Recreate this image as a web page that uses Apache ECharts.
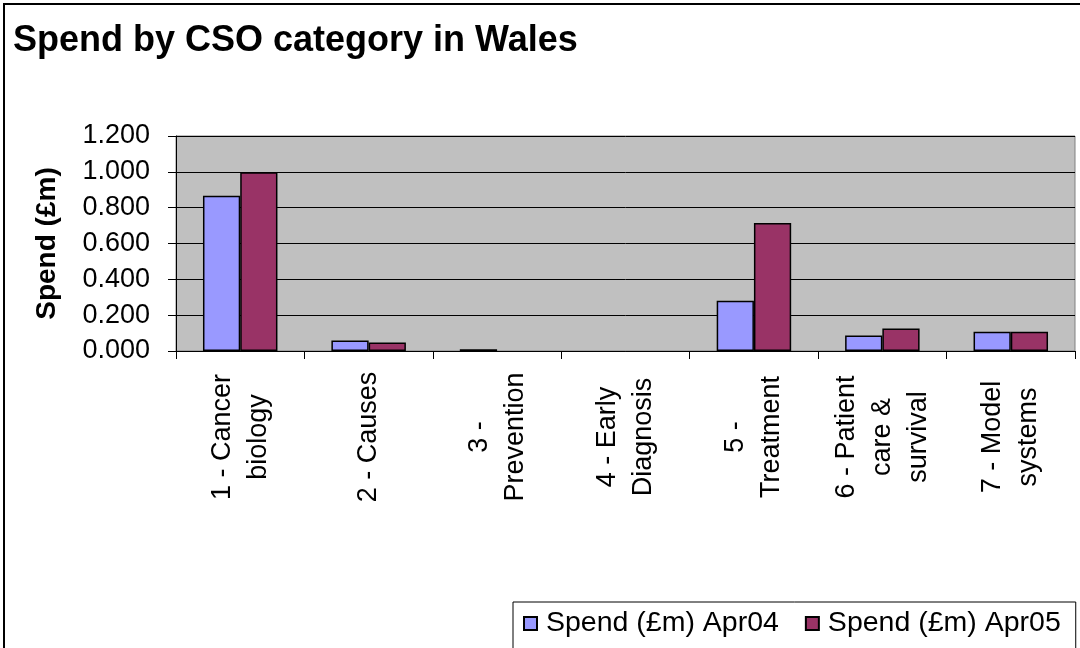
<!DOCTYPE html>
<html>
<head>
<meta charset="utf-8">
<script src="https://cdn.jsdelivr.net/npm/echarts@6/dist/echarts.min.js"></script>
<style>
html,body{margin:0;padding:0;background:#fff;}
#chart{width:1080px;height:648px;}
</style>
</head>
<body>
<div id="chart"></div>
<script>
const categories = ['1 - Cancer\nbiology', '2 - Causes', '3 -\nPrevention', '4 - Early\nDiagnosis', '5 -\nTreatment', '6 - Patient\ncare &\nsurvival', '7 - Model\nsystems'];
const seriesNames = ['Spend (£m) Apr04', 'Spend (£m) Apr05'];
const apr04 = [0.867, 0.059, 0.010, 0, 0.281, 0.087, 0.108];
const apr05 = [0.998, 0.048, 0, 0, 0.714, 0.126, 0.108];
const yTicks = { min: 0, max: 1.2, interval: 0.2 };

const FONT = "'Liberation Sans', Arial, sans-serif";
// zero-valued bars are drawn without an outline (as in the original)
const toBarData = arr => arr.map(v => v === 0 ? { value: v, itemStyle: { borderWidth: 0 } } : v);

const chart = echarts.init(document.getElementById('chart'), null, { renderer: 'canvas' });
chart.setOption({
  backgroundColor: '#ffffff',
  animation: false,
  title: {
    text: 'Spend by CSO category in Wales',
    left: 8, top: 18,
    textStyle: { fontFamily: FONT, fontSize: 36, fontWeight: 'bold', color: '#000' }
  },
  legend: {
    left: 513, top: 602,
    padding: [7, 15, 30, 10],
    borderColor: '#000', borderWidth: 1,
    itemWidth: 13, itemHeight: 13, itemGap: 26,
    icon: 'rect',
    textStyle: { fontFamily: FONT, fontSize: 28.5, color: '#000', padding: [0, 0, 0, 4] },
    data: seriesNames
  },
  grid: {
    left: 176, right: 5, top: 136, height: 215,
    show: true, backgroundColor: '#C0C0C0', borderColor: '#808080', borderWidth: 1
  },
  xAxis: {
    type: 'category',
    data: categories,
    boundaryGap: true,
    axisLine: { lineStyle: { color: '#000', width: 1 } },
    axisTick: { show: true, length: 8, lineStyle: { color: '#000' } },
    axisLabel: {
      rotate: 90, align: 'center', verticalAlign: 'middle', margin: 86,
      interval: 0, lineHeight: 36,
      fontFamily: FONT, fontSize: 27, color: '#000'
    },
    splitLine: { show: false }
  },
  yAxis: {
    type: 'value',
    min: yTicks.min, max: yTicks.max, interval: yTicks.interval,
    name: 'Spend (£m)',
    nameLocation: 'middle', nameGap: 115,
    nameTextStyle: { fontFamily: FONT, fontSize: 28, fontWeight: 'bold', color: '#000' },
    axisLine: { show: true, lineStyle: { color: '#000', width: 1 } },
    axisTick: { show: true, length: 8, lineStyle: { color: '#000' } },
    axisLabel: {
      margin: 26, fontFamily: FONT, fontSize: 27, color: '#000',
      formatter: v => v.toFixed(3)
    },
    splitLine: { show: true, lineStyle: { color: '#000', width: 1 } }
  },
  series: [
    {
      name: seriesNames[0], type: 'bar', data: toBarData(apr04),
      barGap: '0%', barCategoryGap: '42%',
      itemStyle: { color: '#9999FF', borderColor: '#000', borderWidth: 1.5 }
    },
    {
      name: seriesNames[1], type: 'bar', data: toBarData(apr05),
      barGap: '0%', barCategoryGap: '42%',
      itemStyle: { color: '#993366', borderColor: '#000', borderWidth: 1.5 }
    }
  ],
  graphic: [{
    type: 'rect', silent: true, z: 100,
    shape: { x: 4, y: 4, width: 1200, height: 800 },
    style: { fill: 'none', stroke: '#000', lineWidth: 2 }
  }]
});
</script>
</body>
</html>
